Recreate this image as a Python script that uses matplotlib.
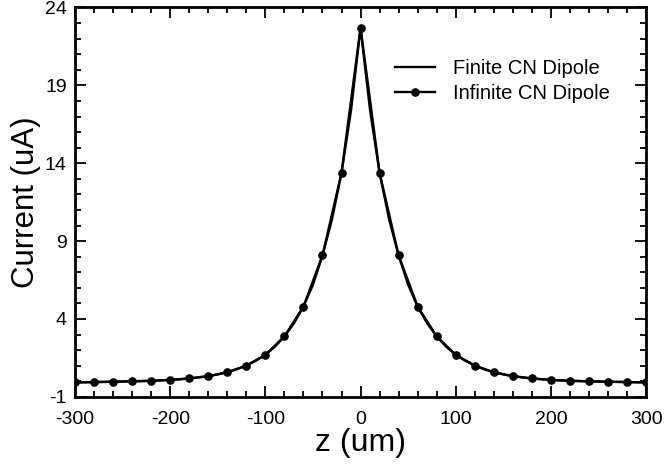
import matplotlib.pyplot as plt
import numpy as np
from matplotlib.ticker import MultipleLocator

plt.rcParams['font.family'] = ['Liberation Sans', 'DejaVu Sans']
plt.rcParams['axes.unicode_minus'] = False

# finite dipole (line), read at finer spacing near the peak
z_finite = [-300, -280, -260, -240, -220, -200, -180, -160, -150, -140, -130, -120, -110,
            -100, -90, -80, -70, -60, -50, -40, -30, -20, -10, 0,
            10, 20, 30, 40, 50, 60, 70, 80, 90, 100, 110, 120, 130, 140, 150, 160,
            180, 200, 220, 240, 260, 280, 300]
i_finite = [-0.07, -0.05, -0.03, 0.0, 0.03, 0.09, 0.18, 0.33, 0.44, 0.58, 0.77, 1.01, 1.32,
            1.70, 2.22, 2.88, 3.72, 4.80, 6.20, 8.08, 10.40, 13.38, 17.40, 22.70,
            17.40, 13.38, 10.40, 8.08, 6.20, 4.80, 3.72, 2.88, 2.22, 1.70, 1.32, 1.01, 0.77, 0.58, 0.44, 0.33,
            0.18, 0.09, 0.03, 0.0, -0.03, -0.05, -0.07]

# infinite dipole (markers every 20 um)
z_inf = [-300, -280, -260, -240, -220, -200, -180, -160, -140, -120, -100, -80, -60, -40, -20, 0,
         20, 40, 60, 80, 100, 120, 140, 160, 180, 200, 220, 240, 260, 280, 300]
i_inf = [-0.07, -0.05, -0.03, 0.0, 0.03, 0.09, 0.18, 0.33, 0.58, 1.01, 1.70, 2.88, 4.80, 8.08, 13.38, 22.70,
         13.38, 8.08, 4.80, 2.88, 1.70, 1.01, 0.58, 0.33, 0.18, 0.09, 0.03, 0.0, -0.03, -0.05, -0.07]

fig = plt.figure(figsize=(6.64, 4.68), dpi=100)
ax = fig.add_axes([0.113, 0.152, 0.86, 0.832])

ax.plot(z_finite, i_finite, '-', color='black', lw=1.7, label='Finite CN Dipole')
ax.plot(z_inf, i_inf, '-o', color='black', lw=1.7, ms=5.2, label='Infinite CN Dipole')

ax.set_xlim(-300, 300)
ax.set_ylim(-1, 24)
ax.set_xticks(np.arange(-300, 301, 100))
ax.set_yticks(np.arange(-1, 25, 5))
ax.xaxis.set_minor_locator(MultipleLocator(20))
ax.yaxis.set_minor_locator(MultipleLocator(1))
ax.tick_params(which='both', direction='in', top=True, right=True, labelsize=14, width=1.3)
ax.tick_params(which='major', length=8)
ax.tick_params(which='minor', length=4.5)
ax.tick_params(axis='x', pad=10)
ax.tick_params(axis='y', pad=6)
for s in ax.spines.values():
    s.set_linewidth(2)

ax.set_xlabel('z (um)', fontsize=23, labelpad=0)
ax.set_ylabel('Current (uA)', fontsize=22.5, labelpad=3)

ax.legend(loc='upper left', bbox_to_anchor=(0.56, 0.868), frameon=False, fontsize=14.5,
          handlelength=2.0, labelspacing=0.3, handletextpad=0.9, borderpad=0, borderaxespad=0)

fig.savefig('out.png', dpi=100)
